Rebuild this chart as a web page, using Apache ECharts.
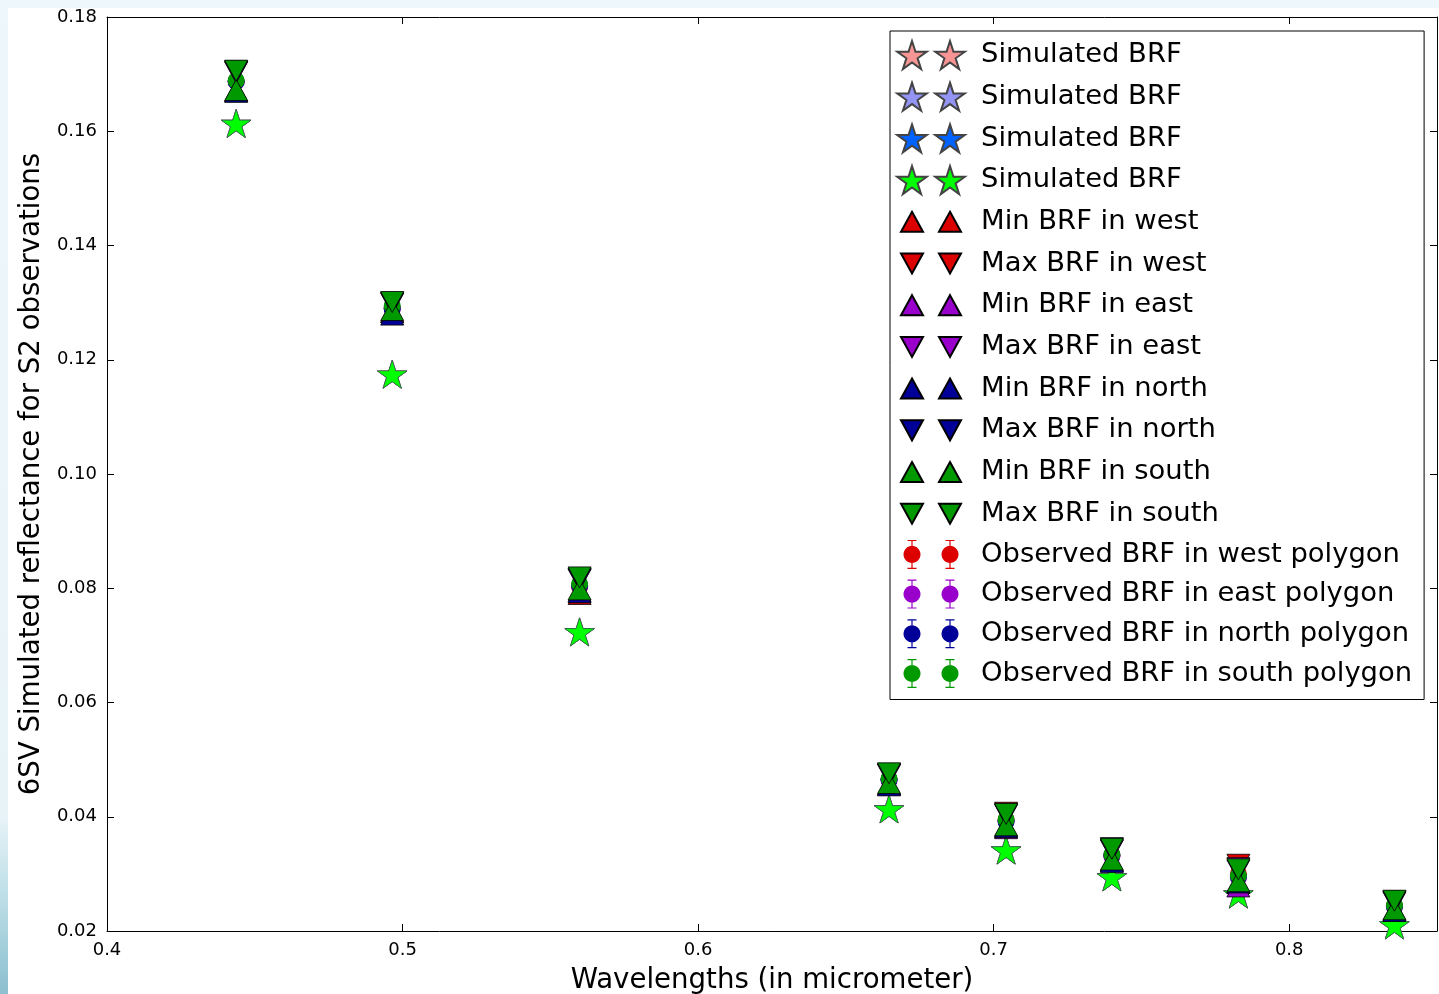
<!DOCTYPE html>
<html><head><meta charset="utf-8">
<script src="https://cdn.jsdelivr.net/npm/echarts@6/dist/echarts.min.js"></script>
<style>
html,body{margin:0;padding:0;width:1439px;height:994px;overflow:hidden;background:#eef7fb;}
#paper{position:absolute;left:8px;top:8px;width:1431px;height:986px;background:#fff;}
#strip{position:absolute;left:0;top:0;width:8px;height:994px;background:linear-gradient(to bottom,#eef7fb 0%,#e8f3f8 82%,#b9dce5 91%,#8cbfcf 100%);}
#chart{position:absolute;left:0;top:0;width:1439px;height:994px;}
</style></head><body>
<div id="strip"></div><div id="paper"></div><div id="chart"></div>
<script>
// ---------------- data ----------------
const wavelengths = [0.4437, 0.4965, 0.5599, 0.6646, 0.7042, 0.7400, 0.7828, 0.8356];

const simulated1 = [0.1611, 0.1172, 0.0721, 0.0411, 0.0339, 0.0292, 0.0262, 0.0208];
const simulated2 = [0.1611, 0.1172, 0.0721, 0.0411, 0.0339, 0.0292, 0.0262, 0.0208];
const simulated3 = [0.1611, 0.1172, 0.0721, 0.0411, 0.0339, 0.0292, 0.0262, 0.0208];
const simulated4 = [0.1611, 0.1172, 0.0721, 0.0411, 0.0339, 0.0292, 0.0262, 0.0208];

const minWest  = [0.1670, 0.1284, 0.0790, 0.0457, 0.0383, 0.0323, 0.0284, 0.0237];
const maxWest  = [0.1704, 0.1299, 0.0816, 0.0474, 0.0407, 0.0342, 0.0316, 0.0251];
const minEast  = [0.1671, 0.1283, 0.0795, 0.0456, 0.0380, 0.0322, 0.0278, 0.0236];
const maxEast  = [0.1703, 0.1298, 0.0815, 0.0473, 0.0404, 0.0341, 0.0310, 0.0250];
const minNorth = [0.1669, 0.1279, 0.0793, 0.0455, 0.0382, 0.0321, 0.0285, 0.0235];
const maxNorth = [0.1705, 0.1300, 0.0817, 0.0475, 0.0403, 0.0345, 0.0306, 0.0252];
const minSouth = [0.1672, 0.1287, 0.0798, 0.0459, 0.0385, 0.0325, 0.0287, 0.0238];
const maxSouth = [0.1706, 0.1301, 0.0819, 0.0476, 0.0405, 0.0344, 0.0308, 0.0253];

const obsWest  = [0.1687, 0.1291, 0.0803, 0.0465, 0.0395, 0.0332, 0.0300, 0.0244];
const obsEast  = [0.1687, 0.1290, 0.0805, 0.0464, 0.0392, 0.0331, 0.0294, 0.0243];
const obsNorth = [0.1687, 0.1289, 0.0805, 0.0465, 0.0392, 0.0333, 0.0295, 0.0243];
const obsSouth = [0.1689, 0.1294, 0.0808, 0.0467, 0.0395, 0.0334, 0.0297, 0.0245];
const errWest  = [0.0012, 0.0010, 0.0009, 0.0006, 0.0007, 0.0006, 0.0008, 0.0005];
const errEast  = [0.0012, 0.0010, 0.0008, 0.0006, 0.0007, 0.0006, 0.0009, 0.0005];
const errNorth = [0.0013, 0.0011, 0.0008, 0.0006, 0.0007, 0.0007, 0.0007, 0.0005];
const errSouth = [0.0012, 0.0010, 0.0008, 0.0006, 0.0006, 0.0006, 0.0007, 0.0005];

const legendLabels = [
  'Simulated BRF', 'Simulated BRF', 'Simulated BRF', 'Simulated BRF',
  'Min BRF in west', 'Max BRF in west', 'Min BRF in east', 'Max BRF in east',
  'Min BRF in north', 'Max BRF in north', 'Min BRF in south', 'Max BRF in south',
  'Observed BRF in west polygon', 'Observed BRF in east polygon',
  'Observed BRF in north polygon', 'Observed BRF in south polygon'
];
const xAxisTitle = 'Wavelengths (in micrometer)';
const yAxisTitle = '6SV Simulated reflectance for S2 observations';

// ---------------- styles ----------------
const FONT = 'DejaVu Sans';
const simColors = ['#f79494', '#9494f5', '#0062ff', '#00ff00'];
const regionColors = {west: '#dd0000', east: '#9a00cc', north: '#000099', south: '#009a00'};

// ---------------- symbol paths ----------------
function f(n){ return n.toFixed(2); }
function starD(cx, cy, R){ // cy = bbox centre
  const r = R * 0.381966;
  const c = cy + 0.0955 * R;
  let d = '';
  for (let k = 0; k < 10; k++){
    const a = (-90 + k * 36) * Math.PI / 180;
    const rad = k % 2 === 0 ? R : r;
    d += (k === 0 ? 'M' : 'L') + f(cx + rad * Math.cos(a)) + ' ' + f(c + rad * Math.sin(a)) + ' ';
  }
  return d + 'Z ';
}
function triD(cx, cy, w, h, down){
  if (!down) return 'M' + f(cx) + ' ' + f(cy - h/2) + ' L' + f(cx + w/2) + ' ' + f(cy + h/2) + ' L' + f(cx - w/2) + ' ' + f(cy + h/2) + ' Z ';
  return 'M' + f(cx - w/2) + ' ' + f(cy - h/2) + ' L' + f(cx + w/2) + ' ' + f(cy - h/2) + ' L' + f(cx) + ' ' + f(cy + h/2) + ' Z ';
}
function rectD(x, y, w, h){
  return 'M' + f(x) + ' ' + f(y) + ' L' + f(x + w) + ' ' + f(y) + ' L' + f(x + w) + ' ' + f(y + h) + ' L' + f(x) + ' ' + f(y + h) + ' Z ';
}
function circD(cx, cy, r){
  let d = '';
  for (let k = 0; k < 32; k++){
    const a = k / 32 * 2 * Math.PI;
    d += (k === 0 ? 'M' : 'L') + f(cx + r * Math.cos(a)) + ' ' + f(cy + r * Math.sin(a)) + ' ';
  }
  return d + 'Z ';
}
function obsD(cx, cy, r){
  return circD(cx, cy, r) +
         rectD(cx - 0.6, cy - 14.5, 1.2, 29) + rectD(cx - 4.5, cy - 14.5, 9, 1.2) + rectD(cx - 4.5, cy + 13.3, 9, 1.2);
}
const IW = 80, IH = 32, C1 = 16, C2 = 54, CY = 16;
const box = 'M0 0 M' + IW + ' ' + IH + ' ';
const iconStar = 'path://' + box + starD(C1, CY, 15.5) + starD(C2, CY, 15.5);
const iconUp = 'path://' + box + triD(C1, CY, 22, 20, false) + triD(C2, CY, 22, 20, false);
const iconDown = 'path://' + box + triD(C1, CY, 22, 20, true) + triD(C2, CY, 22, 20, true);
const iconObs = 'path://' + box + obsD(C1, CY, 8.5) + obsD(C2, CY, 8.5);

const symStar = 'path://' + starD(0, 0, 15.5);
const symDown = 'path://M0 0 L22 0 L11 20 Z';

function pts(ys){ return wavelengths.map((x, i) => [x, ys[i]]); }
function ptsErr(ys, es){ return wavelengths.map((x, i) => [x, ys[i], es[i]]); }

const series = [];
const legendData = [];
const names = {};

// simulated stars
[simulated1, simulated2, simulated3, simulated4].forEach((arr, i) => {
  const id = 'sim' + i;
  names[id] = legendLabels[i];
  series.push({
    type: 'scatter', name: id, data: pts(arr), symbol: symStar,
    symbolSize: [29.5, 28], symbolOffset: [0, -1.5],
    itemStyle: {color: simColors[i], borderColor: '#444', borderWidth: 0.5, opacity: 1},
    emphasis: {disabled: true}, z: 2
  });
  legendData.push({name: id, icon: iconStar});
});

// observed (error bars + circles)
const regions = ['west', 'east', 'north', 'south'];
const obsArr = [obsWest, obsEast, obsNorth, obsSouth];
const errArr = [errWest, errEast, errNorth, errSouth];
regions.forEach((reg, i) => {
  const col = regionColors[reg];
  series.push({
    type: 'custom', name: 'err' + i, data: ptsErr(obsArr[i], errArr[i]), z: 2,
    renderItem: function (params, api) {
      const x = api.value(0), y = api.value(1), e = api.value(2);
      const p1 = api.coord([x, y + e]), p2 = api.coord([x, y - e]);
      const st = {stroke: col, lineWidth: 1, opacity: 0.8};
      return {type: 'group', children: [
        {type: 'line', shape: {x1: p1[0], y1: p1[1], x2: p2[0], y2: p2[1]}, style: st},
        {type: 'line', shape: {x1: p1[0] - 4.5, y1: p1[1], x2: p1[0] + 4.5, y2: p1[1]}, style: st},
        {type: 'line', shape: {x1: p2[0] - 4.5, y1: p2[1], x2: p2[0] + 4.5, y2: p2[1]}, style: st}
      ]};
    }
  });
  const id = 'obs' + i;
  names[id] = legendLabels[12 + i];
  series.push({
    type: 'scatter', name: id, data: pts(obsArr[i]), symbol: 'circle', symbolSize: 17,
    itemStyle: {color: col, borderWidth: 0, opacity: 1}, emphasis: {disabled: true}, z: 2
  });
});

// min / max triangles
const minArr = [minWest, minEast, minNorth, minSouth];
const maxArr = [maxWest, maxEast, maxNorth, maxSouth];
regions.forEach((reg, i) => {
  const col = regionColors[reg];
  const idMin = 'min' + i, idMax = 'max' + i;
  names[idMin] = legendLabels[4 + 2 * i];
  names[idMax] = legendLabels[5 + 2 * i];
  series.push({
    type: 'scatter', name: idMin, data: pts(minArr[i]), symbol: 'triangle', symbolSize: [23, 21],
    itemStyle: {color: col, borderColor: '#000', borderWidth: 0.8, opacity: 1}, emphasis: {disabled: true}, z: 2
  });
  series.push({
    type: 'scatter', name: idMax, data: pts(maxArr[i]), symbol: symDown, symbolSize: [23, 21],
    itemStyle: {color: col, borderColor: '#000', borderWidth: 0.8, opacity: 1}, emphasis: {disabled: true}, z: 2
  });
});
[0,1,2,3].forEach(i => {
  legendData.push({name: 'min' + i, icon: iconUp});
  legendData.push({name: 'max' + i, icon: iconDown});
});
[0,1,2,3].forEach(i => {
  legendData.push({name: 'obs' + i, icon: iconObs, itemStyle: {borderWidth: 0}});
});

const axisLine = {show: true, onZero: false, lineStyle: {color: '#000', width: 1}};
const tick = {show: true, inside: true, length: 7, lineStyle: {color: '#000', width: 1}};

const option = {
  backgroundColor: 'transparent',
  animation: false,
  grid: {left: 107, top: 17, width: 1330, height: 914, show: false, containLabel: false, outerBoundsMode: 'none'},
  xAxis: [{
    type: 'value', min: 0.4, max: 0.85, interval: 0.1, position: 'bottom',
    axisLine: axisLine, axisTick: tick, splitLine: {show: false},
    axisLabel: {color: '#000', fontSize: 18, fontFamily: FONT, margin: 10,
      formatter: v => Math.abs(v * 10 - Math.round(v * 10)) < 1e-6 ? v.toFixed(1) : ''},
    name: xAxisTitle, nameLocation: 'middle', nameGap: 36,
    nameTextStyle: {color: '#000', fontSize: 27.6, fontFamily: FONT}
  }, {
    type: 'value', min: 0.4, max: 0.85, interval: 0.1, position: 'top',
    axisLine: axisLine, axisTick: tick, splitLine: {show: false}, axisLabel: {show: false}
  }],
  yAxis: [{
    type: 'value', min: 0.02, max: 0.18, interval: 0.02, position: 'left',
    axisLine: axisLine, axisTick: tick, splitLine: {show: false},
    axisLabel: {color: '#000', fontSize: 18, fontFamily: FONT, margin: 10, formatter: v => v.toFixed(2)},
    name: yAxisTitle, nameLocation: 'middle', nameGap: 54,
    nameTextStyle: {color: '#000', fontSize: 27.6, fontFamily: FONT}
  }, {
    type: 'value', min: 0.02, max: 0.18, interval: 0.02, position: 'right',
    axisLine: axisLine, axisTick: tick, splitLine: {show: false}, axisLabel: {show: false}
  }],
  legend: {
    show: true, orient: 'vertical', left: 890, top: 31,
    padding: [7, 12, 10, 5], itemGap: 7.7, itemWidth: IW, itemHeight: IH,
    backgroundColor: '#fff', borderColor: '#000', borderWidth: 1, borderRadius: 0,
    selectedMode: false, symbolRotate: 0,
    textStyle: {color: '#000', fontSize: 27.4, fontFamily: FONT},
    formatter: n => names[n] || n,
    data: legendData, z: 10
  },
  series: series
};
const chart = echarts.init(document.getElementById('chart'), null, {renderer: 'canvas'});
chart.setOption(option);
</script>
</body></html>
